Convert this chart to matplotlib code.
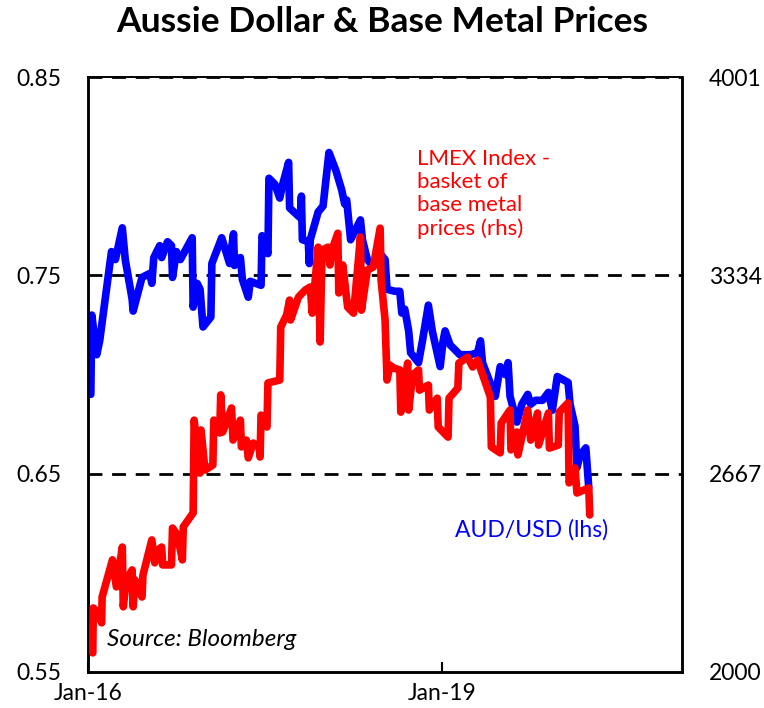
import matplotlib
matplotlib.use('Agg')
import matplotlib.pyplot as plt
import numpy as np

plt.rcParams['font.family'] = ['Lato', 'DejaVu Sans']

# months since Jan-2016 and AUD/USD (lhs)
aud_months = [0.3, 0.4, 0.9, 1.2, 2.4, 2.8, 3.5, 3.8, 4.5, 4.6, 5.5, 6.3, 6.5, 6.7,
              7.3, 7.5, 8.1, 8.5, 8.6, 9.0, 9.4, 10.6, 10.7, 11.1, 11.4, 11.7, 12.5,
              12.6, 13.6, 14.4, 14.8, 14.9, 15.5, 15.7, 16.3, 16.5, 17.6, 17.7, 18.3,
              18.4, 19.0, 19.5, 19.8, 20.4, 20.5, 21.6, 21.7, 21.8, 22.4, 22.5, 22.6,
              23.4, 23.9, 24.5, 25.2, 25.8, 26.1, 26.3, 26.7, 27.2, 27.7, 27.9, 28.4,
              28.9, 29.7, 30.2, 30.4, 31.2, 31.7, 31.9, 32.2, 32.6, 32.8, 33.6, 34.0,
              34.6, 35.0, 35.8, 36.1, 36.3, 36.8, 37.8, 38.9, 39.6, 39.9, 40.1, 41.4,
              41.9, 42.4, 42.7, 42.9, 43.6, 44.1, 44.7, 45.0, 45.5, 46.2, 46.8, 47.2,
              47.7, 48.8, 49.0, 49.5, 49.7, 50.0, 50.6, 50.9]
aud = [0.690, 0.730, 0.710, 0.717, 0.762, 0.758, 0.774, 0.758, 0.738, 0.732, 0.749,
       0.751, 0.746, 0.759, 0.765, 0.759, 0.767, 0.765, 0.749, 0.762, 0.758, 0.769,
       0.734, 0.746, 0.743, 0.724, 0.729, 0.756, 0.769, 0.756, 0.771, 0.755, 0.759,
       0.748, 0.739, 0.747, 0.745, 0.770, 0.761, 0.799, 0.796, 0.789, 0.796, 0.807,
       0.784, 0.779, 0.790, 0.768, 0.767, 0.756, 0.768, 0.782, 0.785, 0.812, 0.803,
       0.793, 0.786, 0.788, 0.768, 0.773, 0.778, 0.768, 0.758, 0.755, 0.761, 0.758,
       0.743, 0.742, 0.742, 0.731, 0.733, 0.722, 0.711, 0.706, 0.717, 0.735, 0.722,
       0.704, 0.717, 0.722, 0.715, 0.710, 0.710, 0.711, 0.717, 0.706, 0.689, 0.704,
       0.700, 0.706, 0.689, 0.676, 0.685, 0.690, 0.685, 0.687, 0.687, 0.691, 0.682,
       0.699, 0.696, 0.685, 0.674, 0.653, 0.659, 0.663, 0.643]

# months since Jan-2016 and LMEX index (rhs)
lmex_months = [0.5, 0.55, 1.0, 1.4, 1.45, 2.5, 2.9, 3.5, 3.6, 3.9, 4.5, 4.6, 4.8, 5.5,
               5.6, 6.5, 6.8, 7.1, 7.5, 7.6, 8.5, 8.6, 9.1, 9.6, 9.7, 10.7, 10.8, 11.4,
               11.5, 11.9, 12.7, 12.8, 13.4, 13.5, 13.7, 14.6, 14.75, 15.5, 15.6, 16.1,
               16.3, 16.8, 17.4, 17.5, 17.6, 18.2, 18.3, 19.5, 19.6, 20.2, 20.5, 20.6,
               21.4, 22.1, 22.6, 22.8, 23.4, 23.6, 23.8, 24.4, 24.6, 24.8, 25.4, 25.5,
               25.9, 26.4, 27.0, 27.7, 27.8, 28.4, 29.0, 29.7, 29.8, 30.2, 30.4, 30.7,
               31.1, 31.7, 31.8, 32.5, 32.6, 33.0, 33.6, 33.7, 34.6, 34.7, 35.5, 35.6,
               36.6, 36.7, 37.6, 37.7, 38.6, 39.1, 39.6, 40.2, 40.9, 41.0, 41.9, 42.0,
               42.9, 43.0, 43.6, 43.7, 44.7, 45.0, 45.7, 45.8, 46.8, 46.9, 47.8, 47.9,
               48.8, 48.9, 49.5, 49.7, 50.9, 51.0]
lmex = [2064, 2215, 2202, 2165, 2252, 2377, 2286, 2420, 2219, 2309, 2343, 2219, 2309,
        2252, 2326, 2444, 2367, 2410, 2420, 2360, 2360, 2484, 2461, 2377, 2488, 2535,
        2847, 2669, 2814, 2679, 2696, 2847, 2804, 2932, 2807, 2888, 2780, 2847, 2757,
        2780, 2720, 2770, 2757, 2723, 2864, 2824, 2972, 2982, 3160, 3201, 3251, 3184,
        3261, 3285, 3295, 3207, 3429, 3110, 3419, 3429, 3369, 3419, 3476, 3275, 3369,
        3227, 3207, 3463, 3217, 3352, 3362, 3493, 3318, 3184, 2982, 3032, 3022, 3016,
        2874, 3039, 2881, 2999, 3016, 2948, 2965, 2881, 2921, 2824, 2790, 2921, 2955,
        3039, 3059, 3026, 3049, 2992, 2925, 2757, 2737, 2837, 2881, 2747, 2807, 2730,
        2881, 2780, 2871, 2763, 2871, 2753, 2763, 2874, 2905, 2636, 2686, 2602, 2619,
        2528]

aud_ticks = [0.55, 0.65, 0.75, 0.85]
lmex_ticks = [2000, 2667, 3334, 4001]
x_ticks = [0, 36]
x_labels = ['Jan-16', 'Jan-19']

fig = plt.figure(figsize=(7.64, 7.08), dpi=100)
ax = fig.add_axes([0.115, 0.051, 0.778, 0.840])
ax2 = ax.twinx()

for y in aud_ticks[1:]:
    ax.axhline(y, color='black', lw=2, dashes=(5, 3.5), zorder=1)

ax.plot(aud_months, aud, color='#0000ff', lw=5.5, solid_capstyle='round',
        solid_joinstyle='round', zorder=3)
ax2.plot(lmex_months, lmex, color='#ff0000', lw=5.5, solid_capstyle='round',
         solid_joinstyle='round', zorder=3)

ax.set_xlim(0, 60.4)
ax.set_ylim(0.55, 0.85)
ax2.set_ylim(2000, 4001)
ax.set_yticks(aud_ticks)
ax.set_yticklabels(['%.2f' % t for t in aud_ticks])
ax2.set_yticks(lmex_ticks)
ax2.set_yticklabels([str(t) for t in lmex_ticks])
ax.set_xticks(x_ticks)
ax.set_xticklabels(x_labels)

ax.tick_params(axis='y', length=0, pad=19, labelsize=16.5)
ax2.tick_params(axis='y', length=0, pad=19, labelsize=16.5)
ax.tick_params(axis='x', direction='in', length=7, width=1.5, pad=8, labelsize=16.5)

for a in (ax, ax2):
    for s in a.spines.values():
        s.set_linewidth(1.8)
    a.spines['top'].set_linewidth(1.2)

ax.text(0.554, 0.880, 'LMEX Index -\nbasket of\nbase metal\nprices (rhs)', transform=ax.transAxes,
        color='#ff0000', fontsize=16, va='top', ha='left', linespacing=1.2)
ax.text(0.618, 0.239, 'AUD/USD (lhs)', transform=ax.transAxes, color='#0000ff',
        fontsize=16.5, va='center', ha='left')
ax.text(0.032, 0.055, 'Source: Bloomberg', transform=ax.transAxes, color='black',
        fontsize=17.5, style='italic', va='center', ha='left')

fig.suptitle('Aussie Dollar & Base Metal Prices', fontsize=25.5, fontweight='bold', y=0.992)

fig.savefig('out.png', dpi=100)
